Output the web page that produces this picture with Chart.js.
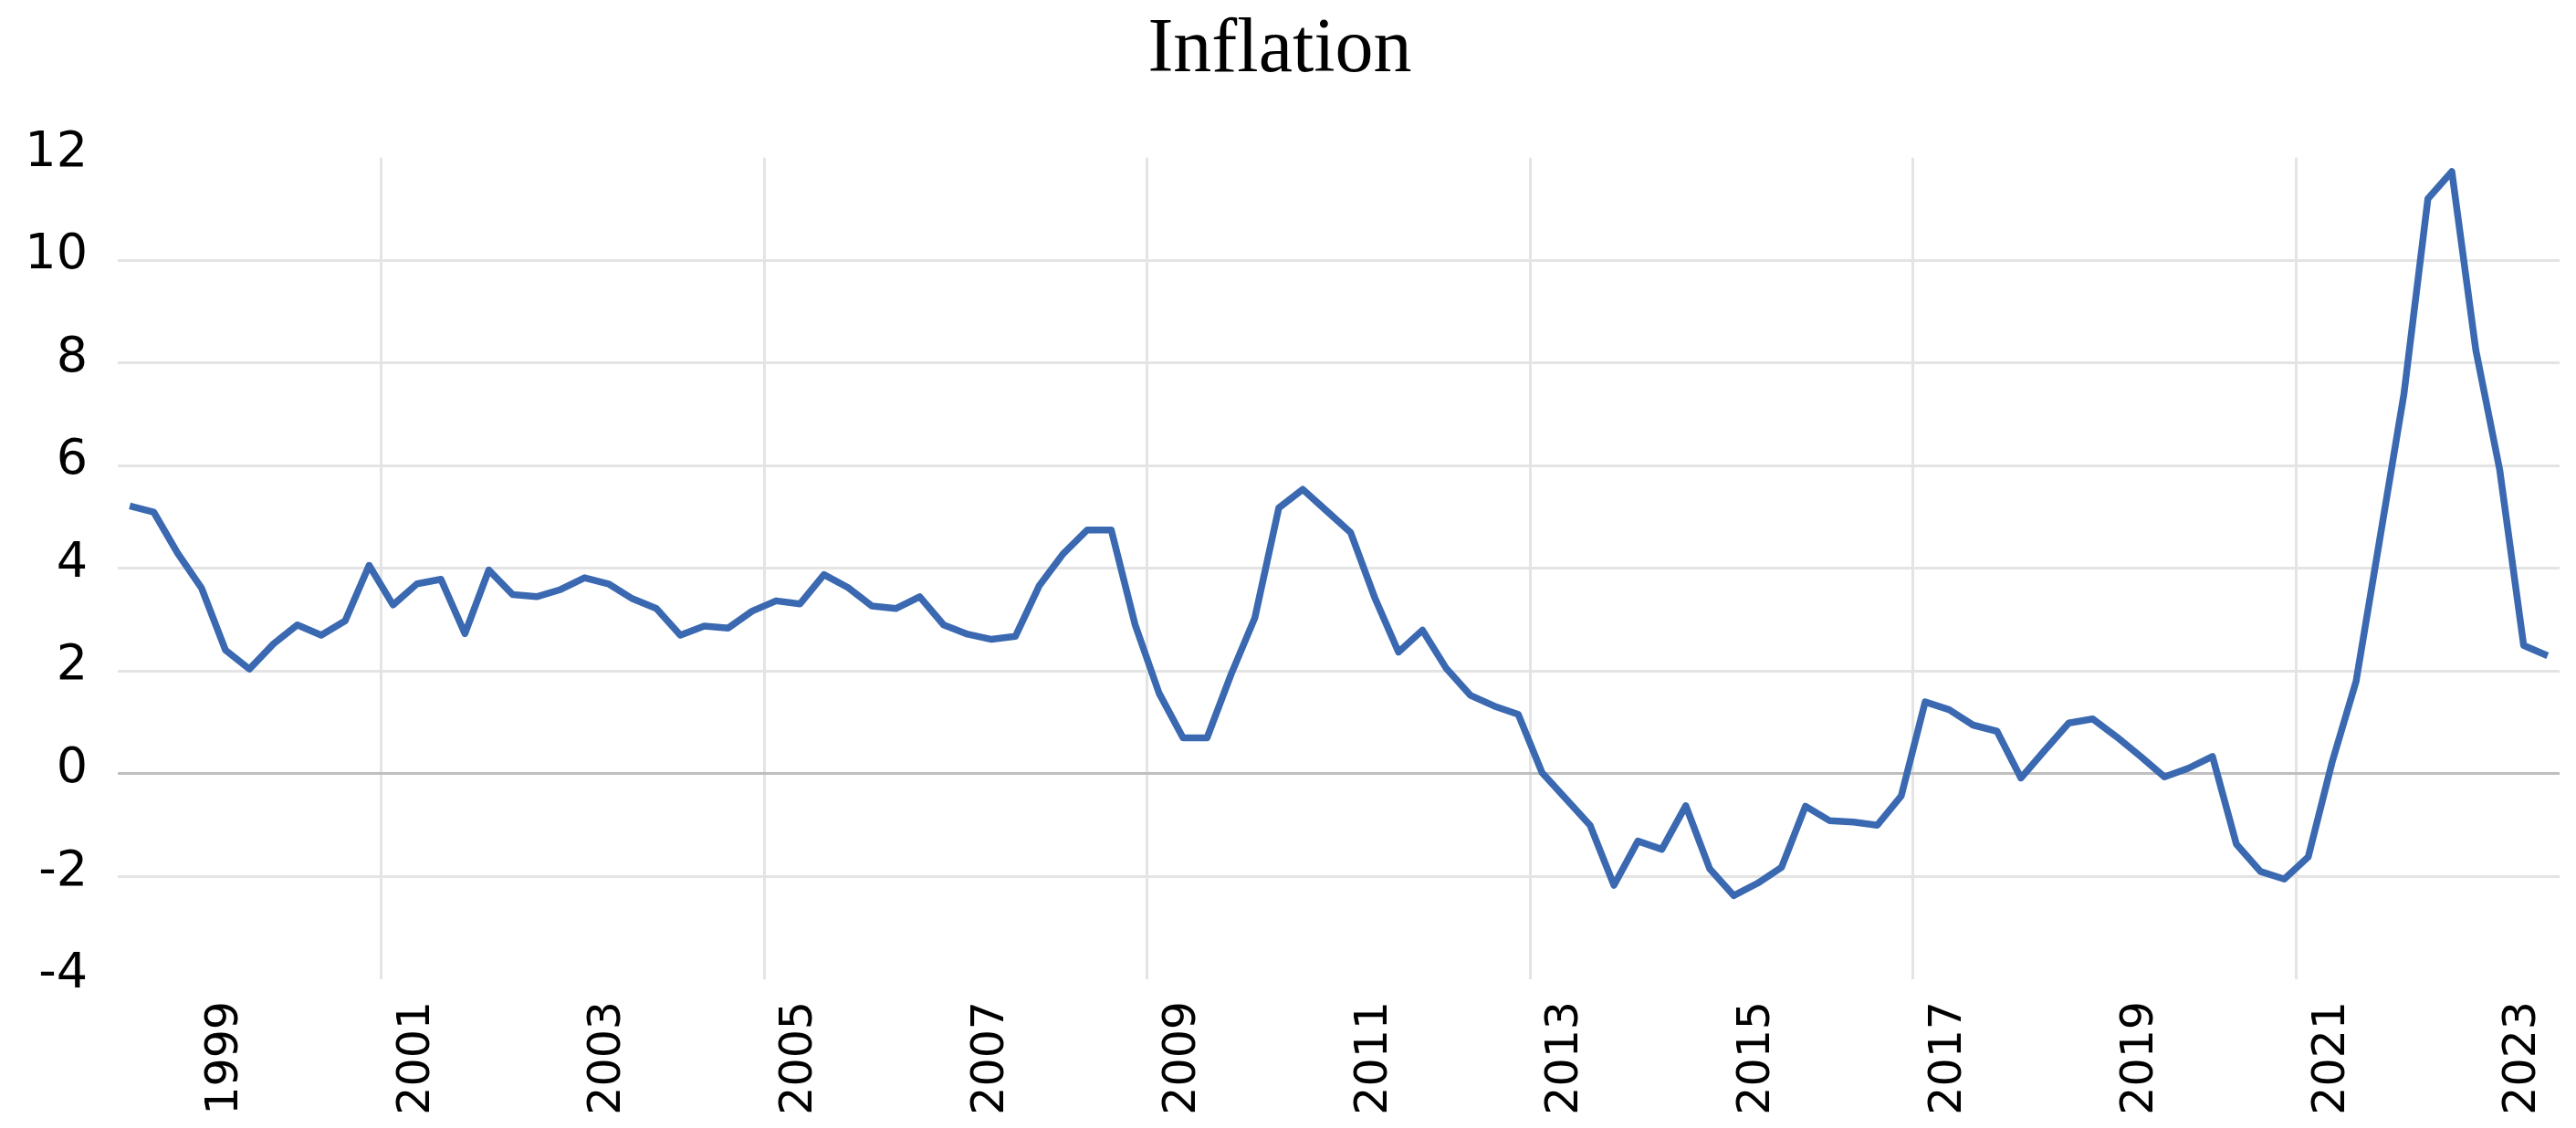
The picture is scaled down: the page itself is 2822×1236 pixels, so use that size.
<!DOCTYPE html>
<html>
<head>
<meta charset="utf-8">
<title>Inflation</title>
<script src="https://cdn.jsdelivr.net/npm/chart.js@4.4.1/dist/chart.umd.min.js"></script>
<style>
  html, body { margin: 0; padding: 0; background: #fff; }
  #box { width: 2822px; height: 1236px; }
</style>
</head>
<body>
<div id="box"><canvas id="grafico"></canvas></div>
<script>
// trimestres 1998Q1 .. 2023Q2
var trimestres = [
  "1998Q1","1998Q2","1998Q3","1998Q4","1999Q1","1999Q2","1999Q3","1999Q4",
  "2000Q1","2000Q2","2000Q3","2000Q4","2001Q1","2001Q2","2001Q3","2001Q4",
  "2002Q1","2002Q2","2002Q3","2002Q4","2003Q1","2003Q2","2003Q3","2003Q4",
  "2004Q1","2004Q2","2004Q3","2004Q4","2005Q1","2005Q2","2005Q3","2005Q4",
  "2006Q1","2006Q2","2006Q3","2006Q4","2007Q1","2007Q2","2007Q3","2007Q4",
  "2008Q1","2008Q2","2008Q3","2008Q4","2009Q1","2009Q2","2009Q3","2009Q4",
  "2010Q1","2010Q2","2010Q3","2010Q4","2011Q1","2011Q2","2011Q3","2011Q4",
  "2012Q1","2012Q2","2012Q3","2012Q4","2013Q1","2013Q2","2013Q3","2013Q4",
  "2014Q1","2014Q2","2014Q3","2014Q4","2015Q1","2015Q2","2015Q3","2015Q4",
  "2016Q1","2016Q2","2016Q3","2016Q4","2017Q1","2017Q2","2017Q3","2017Q4",
  "2018Q1","2018Q2","2018Q3","2018Q4","2019Q1","2019Q2","2019Q3","2019Q4",
  "2020Q1","2020Q2","2020Q3","2020Q4","2021Q1","2021Q2","2021Q3","2021Q4",
  "2022Q1","2022Q2","2022Q3","2022Q4","2023Q1","2023Q2"
];

var inflacao = [
  5.22, 5.10, 4.30, 3.62, 2.41, 2.04, 2.53, 2.90,
  2.70, 2.98, 4.06, 3.29, 3.70, 3.79, 2.73, 3.97,
  3.49, 3.45, 3.59, 3.82, 3.70, 3.41, 3.22, 2.70,
  2.88, 2.84, 3.17, 3.37, 3.31, 3.88, 3.63, 3.27,
  3.22, 3.45, 2.90, 2.72, 2.62, 2.68, 3.67, 4.29,
  4.75, 4.75, 2.90, 1.57, 0.70, 0.70, 1.93, 3.04,
  5.18, 5.54, 5.12, 4.70, 3.44, 2.37, 2.80, 2.05,
  1.53, 1.32, 1.16, 0.02, -0.49, -1.00, -2.17, -1.31,
  -1.47, -0.62, -1.85, -2.37, -2.13, -1.82, -0.63, -0.91,
  -0.94, -1.00, -0.43, 1.40, 1.25, 0.95, 0.83, -0.08,
  0.46, 0.99, 1.07, 0.72, 0.34, -0.06, 0.11, 0.34,
  -1.37, -1.90, -2.05, -1.62, 0.23, 1.80, 4.60, 7.40,
  11.20, 11.73, 8.26, 5.92, 2.50, 2.30
];

// anos que aparecem no eixo x (primeiro trimestre)
var anosEixo = ["1999","2001","2003","2005","2007","2009","2011","2013","2015","2017","2019","2021","2023"];
// linhas verticais de grade ficam antes destes trimestres
var linhasGrade = ["2000Q4","2004Q4","2008Q4","2012Q4","2016Q4","2020Q4"];

var ctx = document.getElementById("grafico");
var chartGraph = new Chart(ctx, {
  type: 'line',
  data: {
    labels: trimestres,
    datasets: [{
      label: "Inflation",
      data: inflacao,
      borderColor: '#3a69b1',
      backgroundColor: 'transparent',
      borderWidth: 7.5,
      borderJoinStyle: 'round',
      pointRadius: 0,
      tension: 0
    }]
  },
  options: {
    responsive: true,
    maintainAspectRatio: false,
    devicePixelRatio: 1,
    animation: false,
    layout: { padding: { top: 0, right: 18, bottom: 0, left: 0 } },
    plugins: {
      legend: { display: false },
      tooltip: { enabled: false },
      title: {
        display: true,
        text: 'Inflation',
        color: '#000',
        font: { family: "'Liberation Serif', 'Times New Roman', serif", size: 84, weight: 'normal' },
        padding: { top: 6, bottom: 66 }
      }
    },
    scales: {
      x: {
        type: 'category',
        offset: true,
        border: { display: false },
        grid: {
          offset: true,
          drawTicks: false,
          lineWidth: 3,
          color: function(c) {
            var t = trimestres[c.index];
            return linhasGrade.indexOf(t) >= 0 ? '#e4e4e4' : 'rgba(0,0,0,0)';
          }
        },
        ticks: {
          autoSkip: false,
          minRotation: 90,
          maxRotation: 90,
          padding: 24,
          color: '#000',
          font: { family: "'DejaVu Sans', sans-serif", size: 49 },
          callback: function(value, index) {
            var t = trimestres[index];
            var ano = t.slice(0, 4);
            if (t.slice(4) === 'Q1' && anosEixo.indexOf(ano) >= 0) return ano;
            return '';
          }
        },
        // sem isso o chart.js encolhe a area por causa dos rotulos girados
        afterFit: function(scale) {
          scale.height = 163;
          scale.paddingLeft = 0;
          scale.paddingRight = 0;
        }
      },
      y: {
        min: -4,
        max: 12,
        border: { display: false },
        grid: {
          drawTicks: false,
          lineWidth: 3,
          color: function(c) {
            if (c.tick.value === 0) return '#bfbfbf';
            if (c.tick.value === 12 || c.tick.value === -4) return 'rgba(0,0,0,0)';
            return '#e4e4e4';
          }
        },
        ticks: {
          stepSize: 2,
          padding: 33,
          labelOffset: -5,
          color: '#000',
          font: { family: "'DejaVu Sans', sans-serif", size: 54 }
        },
        afterFit: function(scale) { scale.width = 129; }
      }
    }
  }
});
</script>
</body>
</html>
